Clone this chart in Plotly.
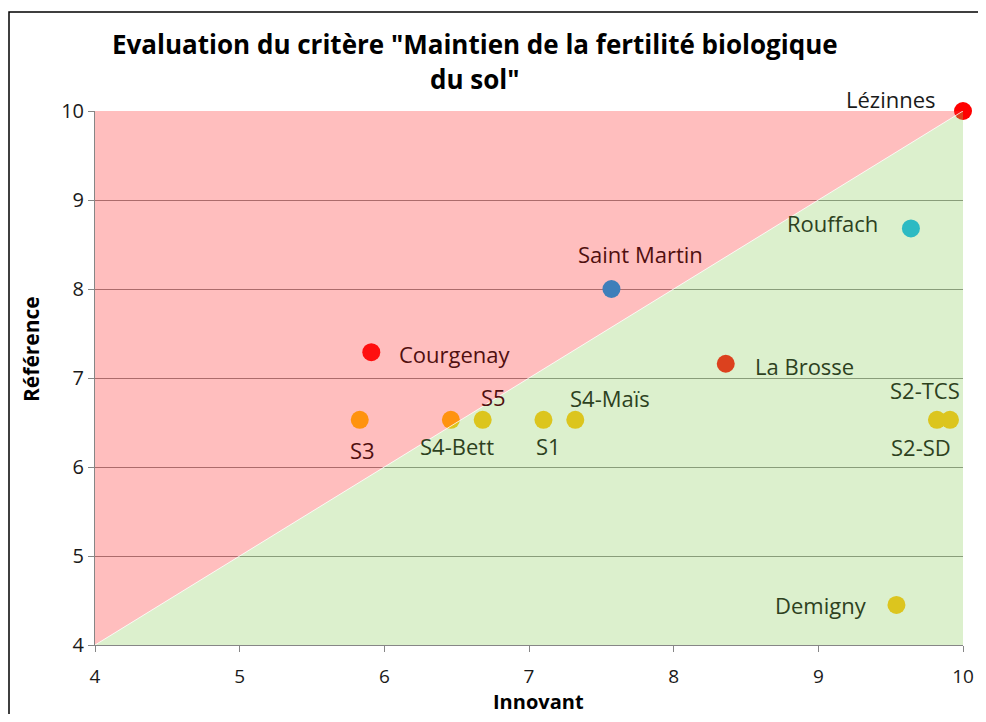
import plotly.graph_objects as go

# ---- data ----
names = ["Lézinnes", "Rouffach", "Courgenay", "La Brosse", "S3", "S4-Bett", "S5",
         "S1", "S4-Maïs", "S2-SD", "S2-TCS", "Demigny"]
innovant = [10.0, 9.64, 5.91, 8.36, 5.83, 6.46, 6.68, 7.10, 7.32, 9.82, 9.91, 9.54]
reference = [10.0, 8.68, 7.29, 7.16, 6.53, 6.53, 6.53, 6.53, 6.53, 6.53, 6.53, 4.45]
sm_name = ["Saint Martin"]
sm_innovant = [7.57]
sm_reference = [8.00]
axis_min, axis_max = 4, 10
tick_vals = [4, 5, 6, 7, 8, 9, 10]

# ---- styles ----
point_colors = ["#FF0000", "#00B0F0", "#FF0000", "#FF0000", "#FFC000", "#FFC000", "#FFC000",
                "#FFC000", "#FFC000", "#FFC000", "#FFC000", "#FFC000"]
sm_color = "#3F7FBA"
# label placement: (xanchor, xshift, yshift, tone)
label_style = {
    "Lézinnes": ("right", -25, 12, "k"),
    "Rouffach": ("right", -31, 5, "g"),
    "Courgenay": ("left", 26, -2, "r"),
    "La Brosse": ("left", 27, -2, "g"),
    "S3": ("center", 3, -30, "r"),
    "S4-Bett": ("center", 6, -26, "g"),
    "S5": ("center", 11, 23, "r"),
    "S1": ("center", 5, -26, "g"),
    "S4-Maïs": ("center", 35, 22, "g"),
    "S2-SD": ("center", -16, -27, "g"),
    "S2-TCS": ("center", -25, 30, "g"),
    "Demigny": ("right", -27, 0, "g"),
    "Saint Martin": ("center", 29, 35, "r"),
}
tones = {"k": "#1A1A1A", "r": "#500F0F", "g": "#2D411E"}
FONT = "Open Sans"
grid = "#868686"

fig = go.Figure()

fig.add_trace(go.Scatter(
    x=innovant, y=reference, mode="markers",
    marker=dict(size=18, color=point_colors, line=dict(width=0)),
    cliponaxis=False, showlegend=False, hoverinfo="skip"))

# translucent zones (over the points, as in the original)
fig.add_trace(go.Scatter(
    x=[axis_min, axis_min, axis_max], y=[axis_min, axis_max, axis_max],
    fill="toself", fillcolor="rgba(255,48,48,0.314)", mode="none",
    showlegend=False, hoverinfo="skip"))
fig.add_trace(go.Scatter(
    x=[axis_min, axis_max, axis_max], y=[axis_min, axis_max, axis_min],
    fill="toself", fillcolor="rgba(143,207,96,0.314)", mode="none",
    showlegend=False, hoverinfo="skip"))
fig.add_trace(go.Scatter(
    x=[axis_min, axis_max], y=[axis_min, axis_max], mode="lines",
    line=dict(color="rgba(255,255,255,0.8)", width=1),
    showlegend=False, hoverinfo="skip"))

fig.add_trace(go.Scatter(
    x=sm_innovant, y=sm_reference, mode="markers",
    marker=dict(size=18, color=sm_color, line=dict(width=0)),
    cliponaxis=False, showlegend=False, hoverinfo="skip"))

annotations = []
for n, xv, yv in list(zip(names, innovant, reference)) + list(zip(sm_name, sm_innovant, sm_reference)):
    xa, xs, ys, tone = label_style[n]
    annotations.append(dict(
        x=xv, y=yv, xref="x", yref="y", text=n, showarrow=False,
        xanchor=xa, yanchor="middle", xshift=xs, yshift=ys,
        font=dict(family=FONT, size=22, color=tones[tone])))

# page has an 8px body margin
OFF = 8
W, H = 970, 706
L, T = 87, 103
pw, ph = 868, 534
R = W - L - pw
B = H - T - ph


def px(xp):  # page pixel -> paper
    return (xp - OFF - L) / pw


def py(yp):
    return (T + ph - (yp - OFF)) / ph


annotations += [
    dict(x=px(475), y=py(44), xref="paper", yref="paper", showarrow=False,
         xanchor="center", yanchor="middle",
         text="<b>Evaluation du critère \"Maintien de la fertilité biologique</b>",
         font=dict(family=FONT, size=26, color="#000000")),
    dict(x=px(475), y=py(79), xref="paper", yref="paper", showarrow=False,
         xanchor="center", yanchor="middle",
         text="<b>du sol\"</b>",
         font=dict(family=FONT, size=26, color="#000000")),
    dict(x=px(538), y=py(701), xref="paper", yref="paper", showarrow=False,
         xanchor="center", yanchor="middle",
         text="<b>Innovant</b>", font=dict(family=FONT, size=20, color="#000000")),
    dict(x=px(31), y=py(349), xref="paper", yref="paper", showarrow=False,
         xanchor="center", yanchor="middle",
         text="<b>Référence</b>", textangle=-90,
         font=dict(family=FONT, size=21, color="#000000")),
]

fig.update_layout(
    width=W, height=H,
    margin=dict(l=L, r=R, t=T, b=B, autoexpand=False),
    paper_bgcolor="white", plot_bgcolor="white",
    annotations=annotations,
    shapes=[dict(type="rect", xref="paper", yref="paper",
                 x0=px(9), y0=py(760), x1=px(1020), y1=py(12),
                 line=dict(color="#000000", width=1.5), fillcolor="rgba(0,0,0,0)",
                 layer="above")],
    xaxis=dict(range=[axis_min, axis_max], tickvals=tick_vals, showgrid=False,
               zeroline=False, showline=True, linecolor=grid, linewidth=1,
               ticks="outside", ticklen=6, tickcolor=grid, layer="below traces",
               ticklabelstandoff=8, automargin=False,
               tickfont=dict(family=FONT, size=19, color="#1A1A1A")),
    yaxis=dict(range=[axis_min, axis_max], tickvals=tick_vals, showgrid=True,
               gridcolor=grid, gridwidth=1, zeroline=False, showline=True,
               linecolor=grid, linewidth=1, ticks="outside", ticklen=6,
               tickcolor=grid, layer="below traces", automargin=False,
               tickfont=dict(family=FONT, size=20, color="#1A1A1A")),
)

fig.write_html("out.html")
